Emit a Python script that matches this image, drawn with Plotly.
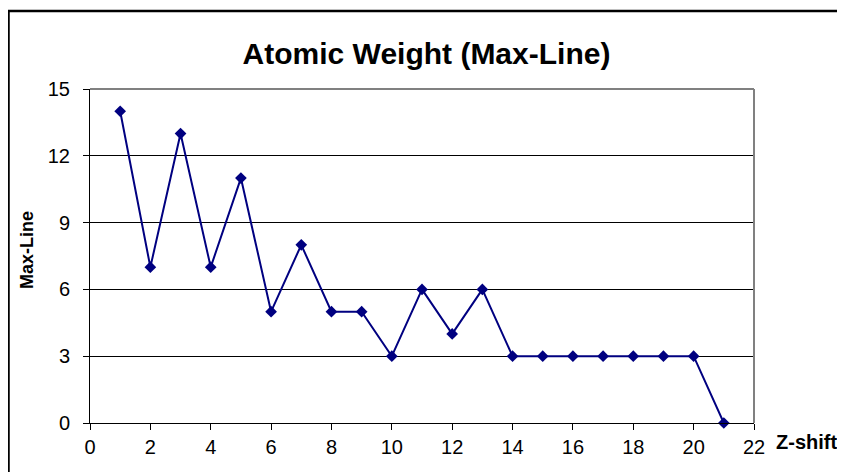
import plotly.graph_objects as go

z_shift = list(range(1, 22))
max_line = [14, 7, 13, 7, 11, 5, 8, 5, 5, 3, 6, 4, 6, 3, 3, 3, 3, 3, 3, 3, 0]

title_text = "Atomic Weight (Max-Line)"
x_title = "Z-shift"
y_title = "Max-Line"

OFF = 8  # page body offset
W, H = 845 - OFF, 472 - OFF
ml = 90 - OFF
mt = 89 - OFF
pr = 754 - OFF
pb = 423 - OFF
mr = W - pr
mb = H - pb
pw, ph = pr - ml, pb - mt


def px_x(p):
    return (p - OFF - ml) / pw


def px_y(p):
    return (pb - (p - OFF)) / ph


fig = go.Figure()
fig.add_trace(go.Scatter(
    x=z_shift, y=max_line, mode="lines+markers",
    line=dict(color="#000080", width=2),
    marker=dict(symbol="diamond", size=9, color="#000080"),
    cliponaxis=False, showlegend=False,
))

font = "Liberation Sans, Arial, sans-serif"
fig.update_layout(
    width=W, height=H,
    margin=dict(l=ml, r=mr, t=mt, b=mb),
    paper_bgcolor="white", plot_bgcolor="white",
    font=dict(family=font, color="black"),
    title=dict(text="<b>" + title_text + "</b>", x=0.5, xanchor="center",
               y=1 - (53 - OFF) / H, yanchor="middle",
               font=dict(size=30, family=font, color="black")),
    xaxis=dict(range=[0, 22], dtick=2, tick0=0, showgrid=False, zeroline=False,
               showline=True, linecolor="black", linewidth=1,
               ticks="outside", ticklen=6, tickcolor="black",
               tickfont=dict(size=20), ticklabelstandoff=0),
    yaxis=dict(range=[0, 15], dtick=3, tick0=0, showgrid=True, gridcolor="black",
               gridwidth=1, zeroline=False,
               showline=True, linecolor="black", linewidth=1,
               ticks="outside", ticklen=6, tickcolor="black",
               tickfont=dict(size=20), ticklabelstandoff=9),
    shapes=[
        dict(type="line", xref="paper", yref="paper", x0=0, x1=1, y0=1, y1=1,
             line=dict(color="#808080", width=2), layer="above"),
        dict(type="line", xref="paper", yref="paper", x0=1, x1=1, y0=0, y1=1,
             line=dict(color="#808080", width=2), layer="above"),
        dict(type="rect", xref="paper", yref="paper",
             x0=px_x(8.5), x1=px_x(870), y0=px_y(11), y1=px_y(500),
             line=dict(color="black", width=2.5), layer="below"),
    ],
    annotations=[
        dict(text="<b>" + x_title + "</b>", xref="paper", yref="paper",
             x=px_x(774), y=px_y(442), xanchor="left", yanchor="middle",
             showarrow=False, font=dict(size=20, family=font, color="black")),
        dict(text="<b>" + y_title + "</b>", xref="paper", yref="paper",
             x=px_x(27), y=px_y(250), xanchor="center", yanchor="middle",
             textangle=-90, showarrow=False,
             font=dict(size=18, family=font, color="black")),
    ],
)

fig.write_html("out.html")
